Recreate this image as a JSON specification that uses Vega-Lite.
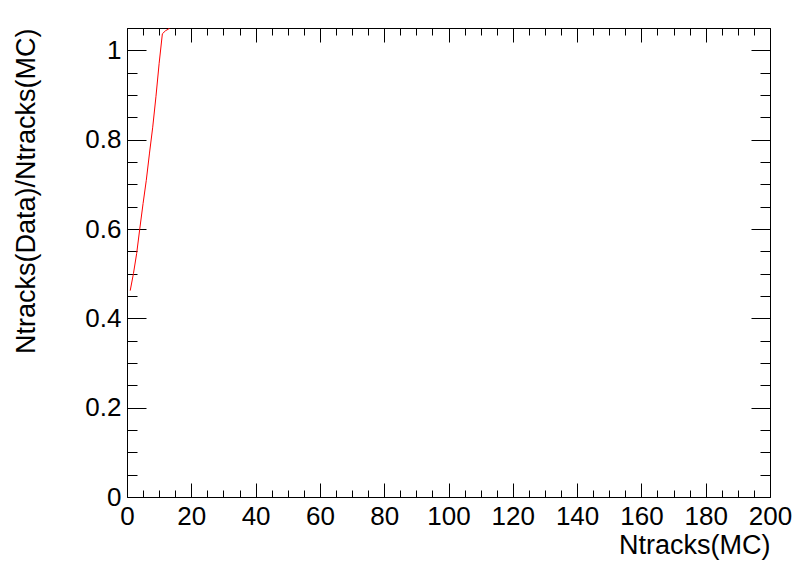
{
  "$schema": "https://vega.github.io/schema/vega-lite/v6.json",
  "width": 643,
  "height": 469,
  "autosize": "none",
  "padding": {"left": 127, "top": 28, "right": 26, "bottom": 75},
  "background": "white",
  "config": {
    "view": {"stroke": null},
    "axis": {
      "labelFont": "Liberation Sans",
      "titleFont": "Liberation Sans",
      "labelColor": "black",
      "titleColor": "black",
      "domainColor": "black",
      "domainWidth": 1,
      "tickColor": "black",
      "tickWidth": 1,
      "grid": false,
      "labelFontSize": 26,
      "titleFontSize": 27,
      "titleFontWeight": "normal"
    }
  },
  "data": {
    "values": [
      {"ntracks": 1, "ratio": 0.462},
      {"ntracks": 2, "ratio": 0.500},
      {"ntracks": 3, "ratio": 0.545},
      {"ntracks": 4, "ratio": 0.602},
      {"ntracks": 5, "ratio": 0.657},
      {"ntracks": 6, "ratio": 0.709},
      {"ntracks": 7, "ratio": 0.770},
      {"ntracks": 8, "ratio": 0.828},
      {"ntracks": 9, "ratio": 0.896},
      {"ntracks": 10, "ratio": 0.971},
      {"ntracks": 11, "ratio": 1.037},
      {"ntracks": 12, "ratio": 1.044},
      {"ntracks": 13, "ratio": 1.048},
      {"ntracks": 14, "ratio": 1.06},
      {"ntracks": 15, "ratio": 1.07}
    ]
  },
  "layer": [
    {
      "mark": {"type": "line", "color": "red", "strokeWidth": 1, "clip": true},
      "encoding": {
        "x": {
          "field": "ntracks",
          "type": "quantitative",
          "scale": {"domain": [0, 200], "nice": false, "zero": false},
          "axis": {
            "orient": "bottom",
            "title": "Ntracks(MC)",
            "titleAnchor": "end",
            "titlePadding": -4,
            "values": [0,5,10,15,20,25,30,35,40,45,50,55,60,65,70,75,80,85,90,95,100,105,110,115,120,125,130,135,140,145,150,155,160,165,170,175,180,185,190,195,200],
            "format": "d",
            "labelExpr": "datum.value % 20 === 0 ? datum.label : ''",
            "tickSize": {"condition": {"test": "datum.value % 20 === 0", "value": -14}, "value": -7},
            "labelPadding": 20,
            "labelFlush": false,
            "labelOverlap": false
          }
        },
        "y": {
          "field": "ratio",
          "type": "quantitative",
          "scale": {"domain": [0, 1.05], "nice": false, "zero": true},
          "axis": {
            "orient": "left",
            "title": "Ntracks(Data)/Ntracks(MC)",
            "titleAnchor": "end",
            "titlePadding": 44,
            "values": [0,0.05,0.1,0.15,0.2,0.25,0.3,0.35,0.4,0.45,0.5,0.55,0.6,0.65,0.7,0.75,0.8,0.85,0.9,0.95,1,1.05],
            "format": "~g",
            "labelExpr": "abs(datum.value*5 - round(datum.value*5)) < 0.000001 ? datum.label : ''",
            "tickSize": {"condition": {"test": "abs(datum.value*5 - round(datum.value*5)) < 0.000001", "value": -19}, "value": -10},
            "labelPadding": 25,
            "labelFlush": false,
            "labelOverlap": false
          }
        }
      }
    },
    {
      "mark": {"type": "line", "opacity": 0},
      "encoding": {
        "x": {
          "field": "ntracks",
          "type": "quantitative",
          "axis": {
            "orient": "top",
            "title": null,
            "labels": false,
            "values": [0,5,10,15,20,25,30,35,40,45,50,55,60,65,70,75,80,85,90,95,100,105,110,115,120,125,130,135,140,145,150,155,160,165,170,175,180,185,190,195,200],
            "tickSize": {"condition": {"test": "datum.value % 20 === 0", "value": -14}, "value": -7}
          }
        },
        "y": {
          "field": "ratio",
          "type": "quantitative",
          "axis": {
            "orient": "right",
            "title": null,
            "labels": false,
            "values": [0,0.05,0.1,0.15,0.2,0.25,0.3,0.35,0.4,0.45,0.5,0.55,0.6,0.65,0.7,0.75,0.8,0.85,0.9,0.95,1,1.05],
            "tickSize": {"condition": {"test": "abs(datum.value*5 - round(datum.value*5)) < 0.000001", "value": -19}, "value": -10}
          }
        }
      }
    }
  ],
  "resolve": {"axis": {"x": "independent", "y": "independent"}}
}
